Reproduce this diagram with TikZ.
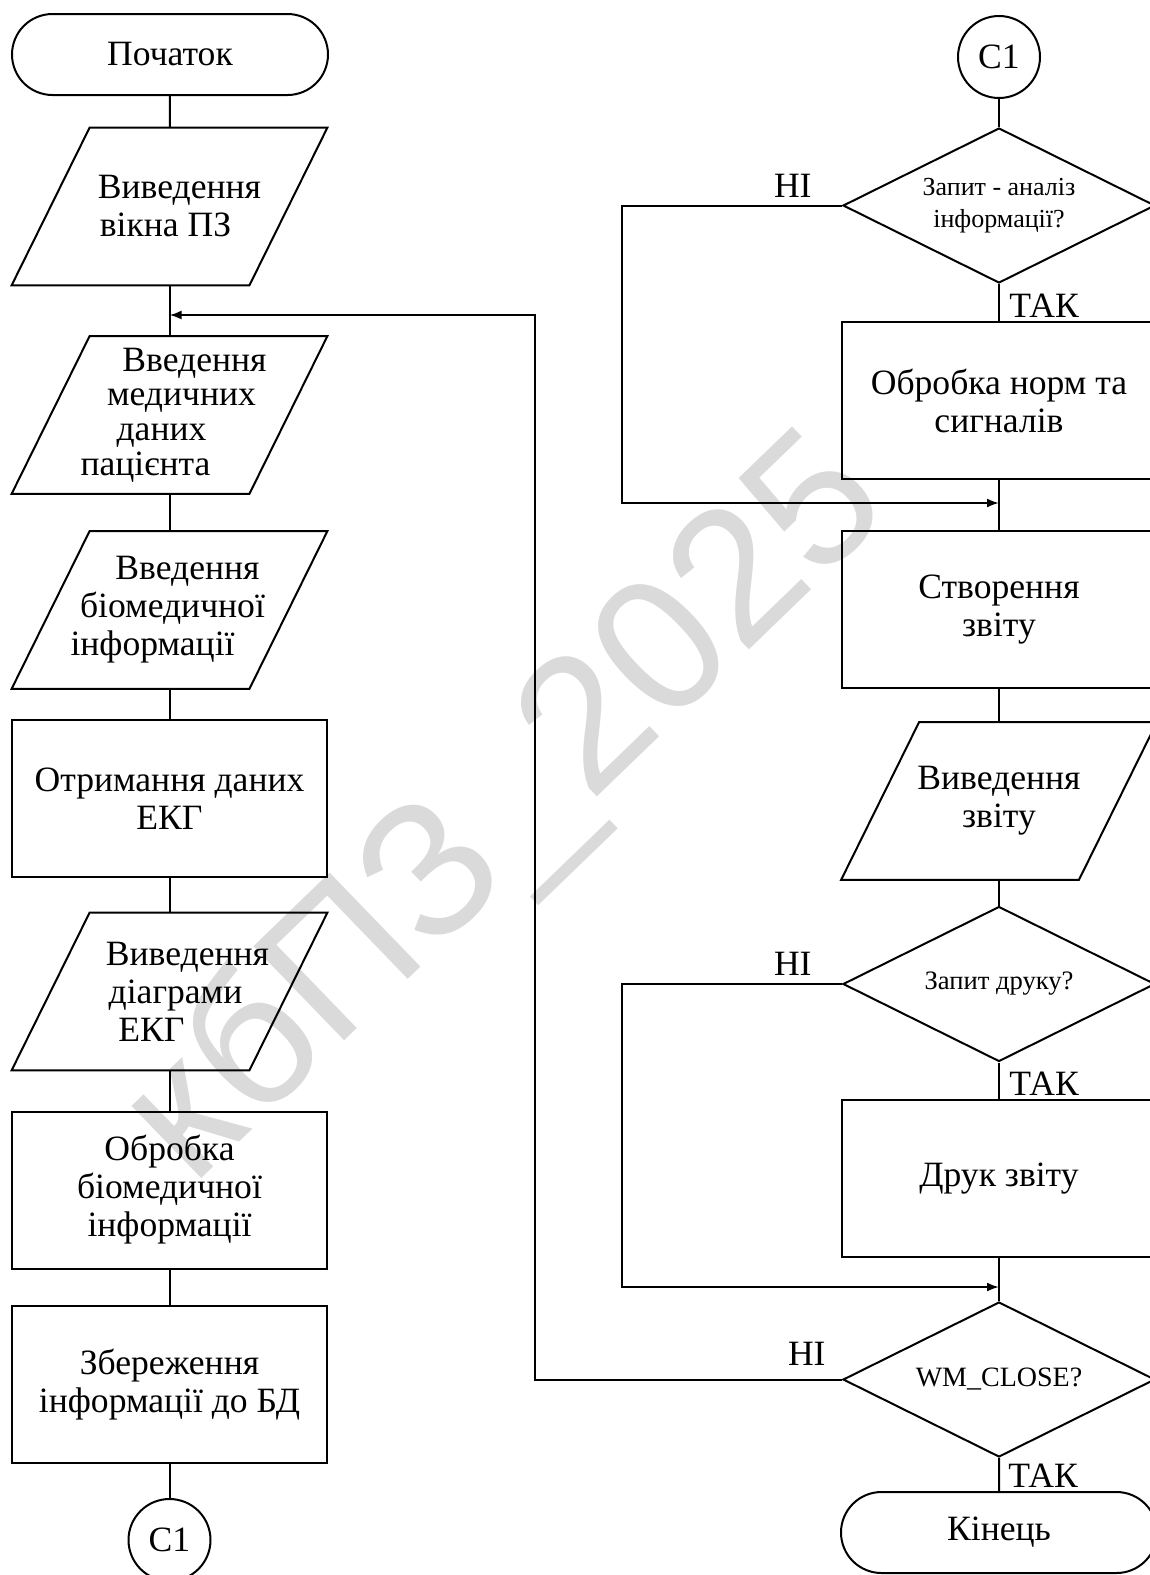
\documentclass[tikz,border=0pt]{standalone}
\usepackage{fontspec}
\setmainfont{Liberation Serif}
\newfontfamily\wmfont{Liberation Sans}
\usetikzlibrary{shapes.geometric,shapes.misc,arrows.meta,calc}
\definecolor{wmgray}{HTML}{DADADA}
\tikzset{
  base/.style={draw, line width=1pt, align=center, inner sep=0pt,
    font=\fontsize{17.8}{19}\selectfont},
  proc/.style={base, rectangle, minimum width=157.5pt, minimum height=78.5pt},
  io/.style={rectangle, align=center, inner sep=0pt,
    font=\fontsize{17.8}{19}\selectfont,
    minimum width=157.5pt, minimum height=78.5pt,
    append after command={\pgfextra{\let\ionode\tikzlastnode
      \draw[line width=1pt] (\ionode.south west) -- ([xshift=-39pt]\ionode.south east)
        -- (\ionode.north east) -- ([xshift=39pt]\ionode.north west) -- cycle;}}},
  term/.style={base, rounded rectangle, minimum width=158pt, minimum height=40.5pt},
  dec/.style={base, diamond, aspect=2, minimum width=156pt, minimum height=77.5pt,
    font=\fontsize{13}{16}\selectfont},
  conn/.style={base, circle, minimum size=41pt},
  line/.style={line width=1pt},
  arr/.style={line width=1pt, -{Latex[length=6pt,width=4.5pt]}},
  lbl/.style={inner sep=0pt, font=\fontsize{17.8}{19}\selectfont}
}
\begin{document}
\begin{tikzpicture}[x=0.5pt,y=-0.5pt]
\useasboundingbox (0,0) rectangle (1150,1575);
\clip (0,0) rectangle (1150,1575);
\fill[white] (0,0) rectangle (1150,1575);

% watermark
\node[rotate=44, text=wmgray, inner sep=0pt,
  font=\wmfont\fontsize{95}{95}\selectfont] (wm) at (508,812) {кбПЗ\_2025};

% left column
\node[term] (start) at (170,54.5) {Початок};
\node[io] (in1) at (169.5,206.5) {\hspace*{10pt}Виведення\\\hspace*{-4pt}вікна ПЗ};
\coordinate (j0) at (169.5,315);
\node[io, font=\fontsize{17.8}{17.4}\selectfont] (in2) at (169.5,415)
  {\hspace*{25pt}Введення\\\hspace*{12pt}медичних\\\hspace*{-8pt}даних\\\hspace*{-24pt}пацієнта};
\node[io] (in3) at (169.5,610)
  {\hspace*{18pt}Введення\\\hspace*{3pt}біомедичної\\\hspace*{-17pt}інформації};
\node[proc] (p1) at (169.5,798.5) {Отримання даних\\ЕКГ};
\node[io] (out2) at (169.5,991.5)
  {\hspace*{18pt}Виведення\\\hspace*{6pt}діаграми\\\hspace*{-18pt}ЕКГ};
\node[proc] (p2) at (169.5,1190) {Обробка\\біомедичної\\інформації};
\node[proc] (p3) at (169.5,1384.5) {Збереження\\інформації до БД};
\node[conn] (c1a) at (169.5,1540) {C1};

% right column
\node[conn] (c1b) at (999,57) {C1};
\node[dec] (d1) at (999,205.5) {Запит - аналіз\\інформації?};
\node[proc] (r1) at (999,400.5) {Обробка норм та\\сигналів};
\coordinate (j1) at (999,503);
\node[proc] (r2) at (999,609.5) {Створення\\звіту};
\node[io] (r3) at (999,801) {Виведення\\звіту};
\node[dec, font=\fontsize{13.3}{16}\selectfont] (d2) at (999,984) {Запит друку?};
\node[proc] (r4) at (999,1178.5) {Друк звіту};
\coordinate (j2) at (999,1287);
\node[dec, font=\fontsize{14}{16}\selectfont] (d3) at (999,1379.5) {WM\_CLOSE?};
\node[term] (end) at (999,1532.5) {Кінець};

\coordinate (k1) at (622,503);
\coordinate (k2) at (622,1287);
\coordinate (k3) at (535,315);

% main flow
\draw[line] (start) -- (in1);
\draw[line] (in1) -- (in2);
\draw[line] (in2) -- (in3);
\draw[line] (in3) -- (p1);
\draw[line] (p1) -- (out2);
\draw[line] (out2) -- (p2);
\draw[line] (p2) -- (p3);
\draw[line] (p3) -- (c1a);
\draw[line] (c1b) -- (d1);
\draw[line] (d1) -- (r1);
\draw[line] (r1) -- (r2);
\draw[line] (r2) -- (r3);
\draw[line] (r3) -- (d2);
\draw[line] (d2) -- (r4);
\draw[line] (r4) -- (d3);
\draw[line] (d3) -- (end);

% loops
\draw[arr] (d1.west) -| (k1) -- (j1);
\draw[arr] (d2.west) -| (k2) -- (j2);
\draw[arr] (d3.west) -| (k3) -- (j0);

% labels
\node[lbl, anchor=south east] (n1) at ($(d1.west)+(-30,-8)$) {НІ};
\node[lbl, anchor=south east] (n2) at ($(d2.west)+(-30,-8)$) {НІ};
\node[lbl, anchor=south east] (n3) at ($(d3.west)+(-16,-14)$) {НІ};
\node[lbl, anchor=south west] (t1) at ($(r1.north)+(10,-3)$) {ТАК};
\node[lbl, anchor=south west] (t2) at ($(r4.north)+(10,-3)$) {ТАК};
\node[lbl, anchor=south west] (t3) at ($(end.north)+(9,-3)$) {ТАК};
\end{tikzpicture}
\end{document}
